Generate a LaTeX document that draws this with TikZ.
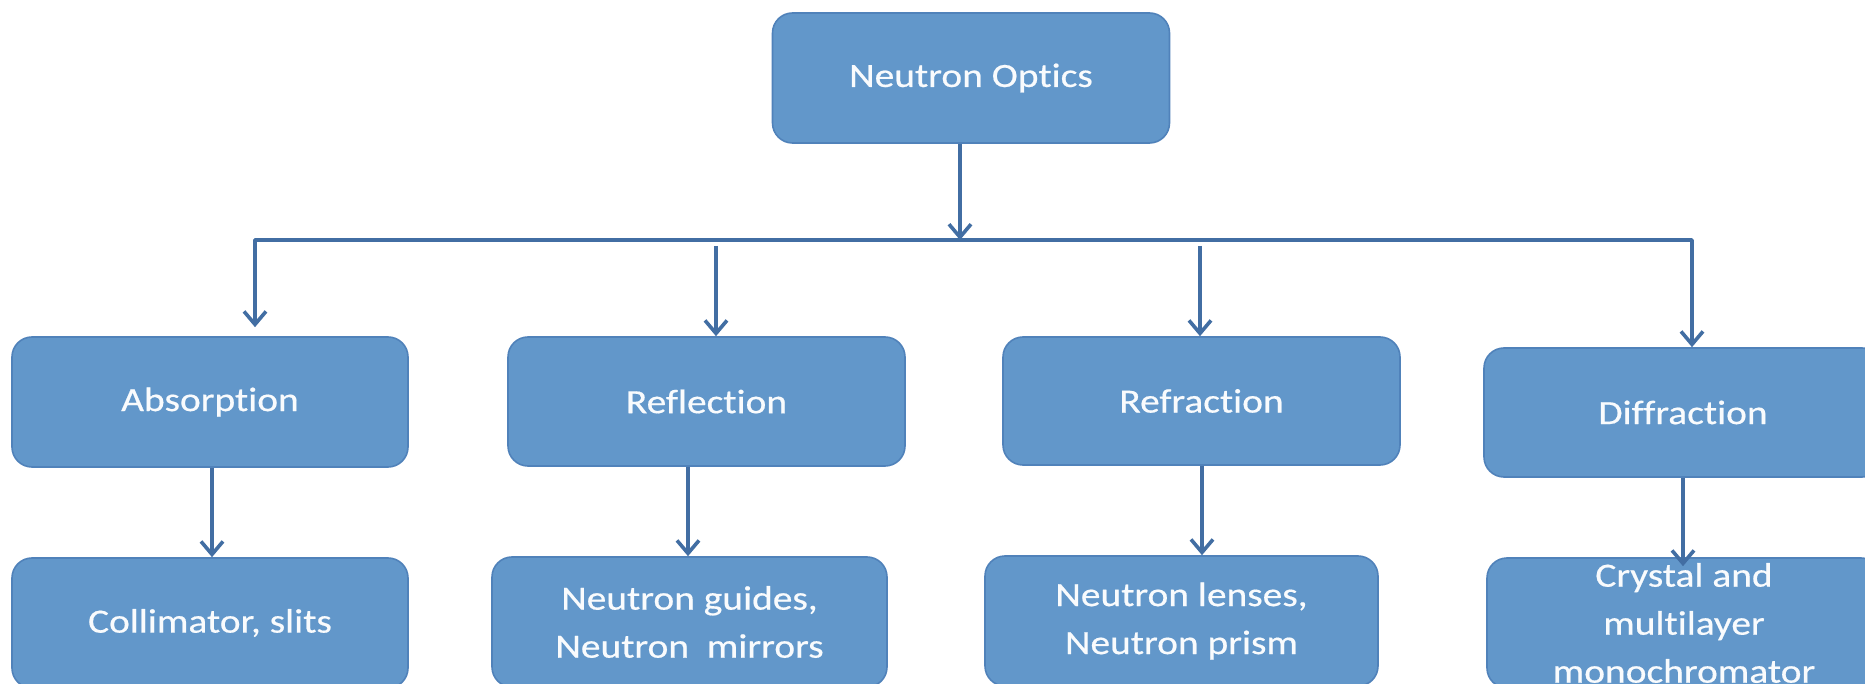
\documentclass[tikz,border=0pt]{standalone}
\usepackage{fontspec}
\setmainfont{Carlito}[FakeStretch=1.16,FakeBold=0.5,Ligatures=NoCommon]
\usetikzlibrary{arrows.meta}
\definecolor{boxfill}{RGB}{98,151,202}
\definecolor{boxline}{RGB}{80,130,186}
\definecolor{arrcol}{RGB}{66,110,163}
\begin{document}
\begin{tikzpicture}[x=0.5pt,y=-0.5pt,
  box/.style={draw=boxline, line width=0.8pt, fill=boxfill, rounded corners=10pt,
    text=white!96!boxfill, font=\fontsize{17}{24}\selectfont, align=center,
    inner sep=0pt, minimum height=65pt},
  conn/.style={draw=arrcol, line width=1.8pt,
    -{Straight Barb[length=6.5pt,width=11pt]}},
  bothconn/.style={draw=arrcol, line width=1.8pt, line join=round,
    {Straight Barb[length=6.5pt,width=11pt]}-{Straight Barb[length=6.5pt,width=11pt]}}]
\useasboundingbox (0,0) rectangle (1865,684);
\clip (0,0) rectangle (1865,684);
\fill[white] (0,0) rectangle (1865,684);

\node[box, minimum width=198.5pt] (top) at (971,78) {Neutron Optics};

\node[box, minimum width=198pt] (abs) at (210,402) {Absorption};
\node[box, minimum width=198.5pt, minimum height=64.5pt] (refl) at (706.5,401.5) {Reflection};
\node[box, minimum width=198.5pt, minimum height=64pt] (refr) at (1201.5,401) {Refraction};
\node[box, minimum width=199pt, minimum height=64.5pt] (diff) at (1683,412.5) {Diffraction};

\node[box, minimum width=198pt] (coll) at (210,623) {Collimator, slits};
\node[box, minimum width=197.5pt] (guides) at (689.5,622) {Neutron guides,\\Neutron\ \ mirrors};
\node[box, minimum width=196.5pt] (lenses) at (1181.5,621) {Neutron lenses,\\Neutron prism};
\node[box, minimum width=197pt] (crystal) at (1684,623) {Crystal and\\multilayer\\monochromator};

\coordinate (hl) at (255,240);
\coordinate (hr) at (1692,240);
\coordinate (t1) at (960,240);
\coordinate (b2) at (716,240);
\coordinate (b3) at (1200,240);
\coordinate (d1) at (212,0);
\coordinate (d2) at (688,0);
\coordinate (d3) at (1202,0);
\coordinate (d4) at (1683,0);

\draw[conn] (top.south -| t1) -- (t1);
\draw[bothconn, shorten <=4.5pt] (abs.north -| hl) -- (hl) -- (hr) -- (diff.north -| hr);
\draw[conn] ([yshift=-3pt]b2) -- (b2 |- refl.north);
\draw[conn] ([yshift=-3pt]b3) -- (b3 |- refr.north);

\draw[conn] (abs.south -| d1) -- (coll.north -| d1);
\draw[conn] (refl.south -| d2) -- (guides.north -| d2);
\draw[conn] (refr.south -| d3) -- (lenses.north -| d3);
\draw[conn, shorten >=-4.5pt] (diff.south -| d4) -- (crystal.north -| d4);
\end{tikzpicture}
\end{document}
